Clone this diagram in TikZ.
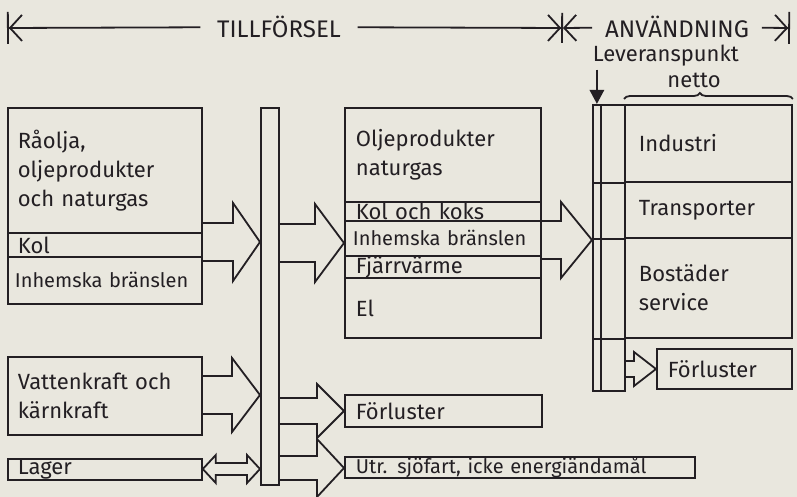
\documentclass[tikz,border=0pt]{standalone}
\usepackage{fontspec}
\setmainfont{Fira Sans}
\usetikzlibrary{positioning, calc, arrows.meta, decorations.pathreplacing}

\definecolor{paper}{HTML}{E9E7DE}
\definecolor{ink}{HTML}{231F23}

\tikzset{
  cell/.style={draw, anchor=north west, inner xsep=5pt, inner ysep=0pt, align=left},
  bar/.style={draw, anchor=north west, inner sep=0pt},
  head/.style={inner xsep=6pt, font=\fontsize{12}{14}\selectfont},
  flow/.style={draw, line join=miter}
}

\newcommand{\blockarrow}[6]{%
  \draw[flow] ($(#1.east|-0,#3)+(0,-#4)$) -- ($(#2.west|-0,#3)+(-#6,-#4)$)
    -- ($(#2.west|-0,#3)+(-#6,-#5)$) -- (#2.west|-0,#3)
    -- ($(#2.west|-0,#3)+(-#6,#5)$) -- ($(#2.west|-0,#3)+(-#6,#4)$)
    -- ($(#1.east|-0,#3)+(0,#4)$);}
\newcommand{\twowayarrow}[6]{%
  \draw[flow] (#1.east|-0,#3) -- ($(#1.east|-0,#3)+(#6,-#5)$) -- ($(#1.east|-0,#3)+(#6,-#4)$)
    -- ($(#2.west|-0,#3)+(-#6,-#4)$) -- ($(#2.west|-0,#3)+(-#6,-#5)$) -- (#2.west|-0,#3)
    -- ($(#2.west|-0,#3)+(-#6,#5)$) -- ($(#2.west|-0,#3)+(-#6,#4)$)
    -- ($(#1.east|-0,#3)+(#6,#4)$) -- ($(#1.east|-0,#3)+(#6,#5)$) -- cycle;}

\begin{document}
\begin{tikzpicture}[x=0.5pt, y=-0.5pt, color=ink, line width=0.9pt, font=\fontsize{11}{14.5}\selectfont]
  \fill[paper] (0,0) rectangle (797,497);
  \useasboundingbox (0,0) rectangle (797,497);

  \coordinate (d0) at (7,28); \coordinate (d1) at (563,28); \coordinate (d2) at (790,28);
  \node[head, inner xsep=8pt] (till) at (279,27) {TILLFÖRSEL};
  \node[head] (anv) at (677,27) {ANVÄNDNING};
  \draw[{Bar[width=16pt] Straight Barb[length=6pt, width=13pt]}-] (d0) -- (till);
  \draw[-{Straight Barb[length=6pt, width=13pt] Bar[width=15pt]}] (till) -- (d1);
  \draw[{Straight Barb[length=6pt, width=13pt]}-] (d1) -- (anv);
  \draw[-{Straight Barb[length=6pt, width=13pt] Bar[width=16pt]}] (anv) -- (d2);

  \node[cell, text width=87pt, minimum height=62.5pt] (raa) at (7,107) {Råolja,\\oljeprodukter\\och naturgas};
  \node[cell, text width=87pt, minimum height=12pt] (kol) at (7,232) {Kol};
  \node[cell, inner xsep=3.5pt, text width=90pt, minimum height=23.5pt, font=\fontsize{10}{12}\selectfont] (inh) at (7,256) {Inhemska bränslen};
  \node[cell, text width=87pt, minimum height=39pt] (vat) at (7,356) {Vattenkraft och\\kärnkraft};
  \node[cell, text width=87pt, minimum height=10.5pt] (lag) at (7,458) {Lager};

  \node[bar, minimum width=9pt, minimum height=188.5pt] (bar) at (260,107) {};

  \node[cell, inner xsep=5.5pt, text width=87pt, minimum height=47pt] (olj) at (344,107) {Oljeprodukter\\naturgas};
  \node[cell, inner xsep=5.5pt, text width=87pt, minimum height=9.5pt] (koks) at (344,201) {Kol och koks};
  \node[cell, inner xsep=4pt, text width=90pt, minimum height=17.5pt, font=\fontsize{10}{12}\selectfont] (inh2) at (344,220) {Inhemska bränslen};
  \node[cell, inner xsep=5.5pt, text width=87pt, minimum height=11pt] (fjv) at (344,255) {Fjärrvärme};
  \node[cell, inner xsep=5.5pt, text width=87pt, minimum height=30pt] (el) at (344,277) {El};
  \node[cell, inner xsep=5.5pt, text width=87.5pt, minimum height=16pt] (forl) at (344,394) {Förluster};
  \node[cell, inner xsep=5.5pt, text width=164pt, minimum height=10.5pt, font=\fontsize{10}{12}\selectfont] (utr) at (344,456) {Utr. sjöfart, icke energiändamål};

  \node[bar, minimum width=4pt, minimum height=143pt] (strip) at (592,104) {};
  \node[bar, minimum width=12pt, minimum height=143pt] (col) at (600,104) {};
  \node[cell, inner xsep=7pt, text width=69.5pt, minimum height=38.5pt] (ind) at (624,104) {Industri};
  \node[cell, inner xsep=7pt, text width=69.5pt, minimum height=28pt] (tra) at (624,181) {Transporter};
  \node[cell, inner xsep=7pt, text width=69.5pt, minimum height=50pt] (bos) at (624,237) {Bostäder\\service};
  \node[cell, inner xsep=5.5pt, text width=56.5pt, minimum height=20pt] (forl2) at (656,348) {Förluster};
  \draw (strip.west |- ind.south) -- (ind.south west);
  \draw (strip.west |- tra.south) -- (tra.south west);
  \draw (strip.west |- bos.south) -- (bos.south west);

  \node[anchor=base west, inner sep=0pt] (lev) at (592,62) {Leveranspunkt};
  \node[anchor=base, inner sep=0pt] (net) at (694,88) {netto};
  \draw[line width=1.4pt, -{Triangle[length=7pt, width=7pt]}] ($(strip.north |- lev.south)+(0,2)$) -- (strip.north);
  \draw[decorate, decoration={brace, amplitude=3pt, aspect=0.45}] ($(ind.north west)+(0,-5)$) -- ($(ind.north east)+(0,-5)$);

  \blockarrow{raa}{bar}{242}{19}{39}{27}
  \blockarrow{bar}{olj}{243}{19}{39}{29}
  \blockarrow{olj}{strip}{240}{19}{38}{31}
  \blockarrow{col}{forl2}{369}{8}{17}{22}
  \blockarrow{vat}{bar}{395}{19}{37}{28}
  \blockarrow{bar}{forl}{411}{13}{27}{27}
  \blockarrow{bar}{utr}{468}{12}{29}{27}
  \twowayarrow{lag}{bar}{469}{6}{14}{13}
\end{tikzpicture}
\end{document}
